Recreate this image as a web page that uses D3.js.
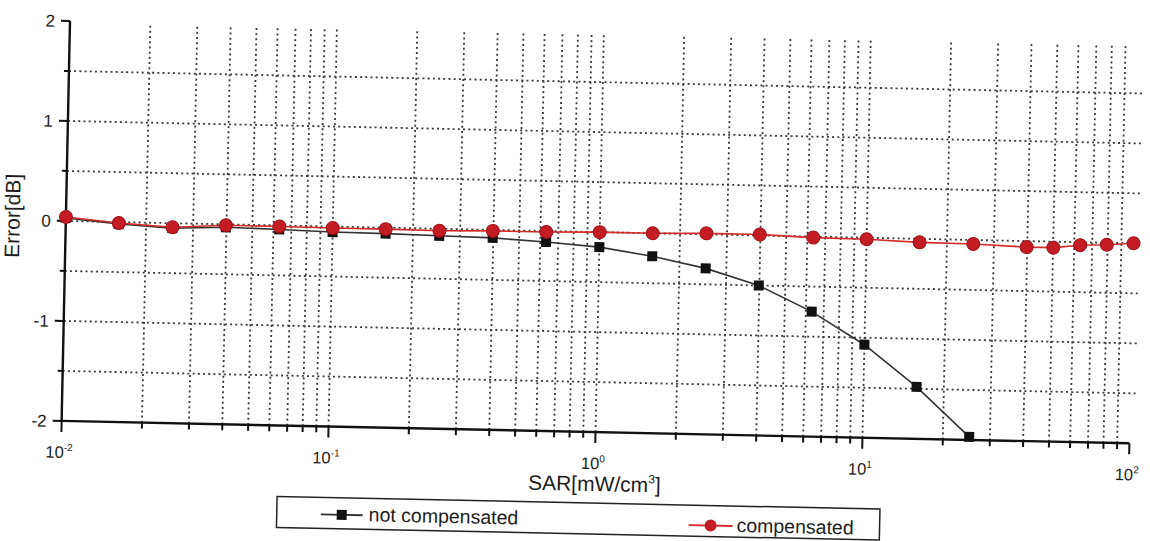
<!DOCTYPE html>
<html>
<head>
<meta charset="utf-8">
<title>Error vs SAR</title>
<style>
  body { margin: 0; background: #fff; }
  text { font-family: 'Liberation Sans', Arial, sans-serif; fill: #1e1e1e; }
</style>
</head>
<body>
<div id="chart"></div>
<script src="https://cdnjs.cloudflare.com/ajax/libs/d3/7.8.5/d3.min.js"></script>
<script>

// SAR values [mW/cm^3]
var sar = [0.01, 0.0158, 0.0251, 0.0398, 0.0631, 0.1, 0.158, 0.251, 0.398, 0.631,
           1, 1.58, 2.51, 3.98, 6.31, 10, 15.8, 25.1, 39.8, 50.1, 63.1, 79.4, 100];
// error [dB]
var notCompensated = [0.03, -0.02, -0.05, -0.03, -0.04, -0.055, -0.06, -0.07, -0.08, -0.11,
                      -0.15, -0.23, -0.34, -0.50, -0.75, -1.07, -1.48, -1.97];
var compensated = [0.04, -0.01, -0.04, -0.01, -0.01, -0.015, -0.015, -0.02, -0.01, -0.01,
                   0.0, 0.0, 0.01, 0.01, -0.01, -0.015, -0.035, -0.04, -0.06, -0.06, -0.03, -0.02, 0.0];
var yTicks = [-2, -1, 0, 1, 2];
var yMinor = [-1.5, -0.5, 0.5, 1.5];
var yGrid = [-1.5, -1, -0.5, 0, 0.5, 1, 1.5];
var decades = [0.01, 0.1, 1, 10, 100];
var decadeExp = ['-2', '-1', '0', '1', '2'];
var legendLabels = ['not compensated', 'compensated'];

var width = 1150, height = 541;
var padL = 70, padT = 21, plotW = 1068, plotH = 400;

var svg = d3.select('#chart').append('svg')
  .attr('width', width)
  .attr('height', height);

// the scanned page sits a little crooked
var g = svg.append('g').attr('transform', 'rotate(1.2,' + padL + ',' + padT + ')');

var x = d3.scaleLog().domain([0.01, 100]).range([padL, padL + plotW]);
var y = d3.scaleLinear().domain([-2, 2]).range([padT + plotH, padT]);

var dots = '2,3.2';

// grid
g.append('g').selectAll('line')
  .data(x.ticks().filter(function(d) { return d > 0.011 && d < 99; }))
  .enter().append('line')
    .attr('x1', function(d) { return x(d); })
    .attr('x2', function(d) { return x(d); })
    .attr('y1', padT + 3)
    .attr('y2', padT + plotH)
    .attr('stroke', '#3a3a3a')
    .attr('stroke-width', 1.8)
    .attr('stroke-dasharray', dots);

g.append('g').selectAll('line')
  .data(yGrid)
  .enter().append('line')
    .attr('x1', padL)
    .attr('x2', padL + plotW + 8)
    .attr('y1', function(d) { return y(d); })
    .attr('y2', function(d) { return y(d); })
    .attr('stroke', '#3a3a3a')
    .attr('stroke-width', 1.8)
    .attr('stroke-dasharray', dots);

// x axis
var xAxis = g.append('g').attr('transform', 'translate(0,' + (padT + plotH) + ')');
xAxis.append('line')
  .attr('x1', padL).attr('x2', padL + plotW)
  .attr('stroke', '#111').attr('stroke-width', 2.4);
xAxis.selectAll('line.tick')
  .data(x.ticks())
  .enter().append('line')
    .attr('class', 'tick')
    .attr('x1', function(d) { return x(d); })
    .attr('x2', function(d) { return x(d); })
    .attr('y1', 0)
    .attr('y2', function(d) { return decades.indexOf(d) >= 0 ? 11 : 6; })
    .attr('stroke', '#111')
    .attr('stroke-width', 2);
var xl = xAxis.selectAll('text')
  .data(decades)
  .enter().append('text')
    .attr('x', function(d) { return x(d) - 2; })
    .attr('y', 37)
    .attr('text-anchor', 'middle')
    .attr('font-size', 16.5);
xl.append('tspan').text('10');
xl.append('tspan')
  .attr('dy', -7)
  .attr('font-size', 10)
  .text(function(d, i) { return decadeExp[i]; });

g.append('text')
  .attr('x', x(1))
  .attr('y', padT + plotH + 59)
  .attr('text-anchor', 'middle')
  .attr('font-size', 21)
  .html('SAR[mW/cm<tspan dy="-9" font-size="12">3</tspan><tspan dy="9">]</tspan>');

// y axis
var yAxis = g.append('g');
yAxis.append('line')
  .attr('x1', padL).attr('x2', padL)
  .attr('y1', padT).attr('y2', padT + plotH)
  .attr('stroke', '#111').attr('stroke-width', 2.4);
yAxis.selectAll('line.tick')
  .data(yTicks.concat(yMinor))
  .enter().append('line')
    .attr('class', 'tick')
    .attr('x1', function(d) { return yTicks.indexOf(d) >= 0 ? padL - 9 : padL - 5; })
    .attr('x2', padL)
    .attr('y1', function(d) { return y(d); })
    .attr('y2', function(d) { return y(d); })
    .attr('stroke', '#111')
    .attr('stroke-width', 2);
yAxis.selectAll('text')
  .data(yTicks)
  .enter().append('text')
    .attr('x', padL - 15)
    .attr('y', function(d) { return y(d) + 6; })
    .attr('text-anchor', 'end')
    .attr('font-size', 17)
    .text(function(d) { return d; });

g.append('text')
  .attr('transform', 'translate(24,' + (y(0) - 4) + ') rotate(-90)')
  .attr('text-anchor', 'middle')
  .attr('font-size', 21)
  .text('Error[dB]');

// series
var line = d3.line()
  .x(function(d) { return x(d[0]); })
  .y(function(d) { return y(d[1]); });

var ncData = notCompensated.map(function(v, i) { return [sar[i], v]; });
var cData = compensated.map(function(v, i) { return [sar[i], v]; });

g.append('path')
  .datum(ncData)
  .attr('d', line)
  .attr('fill', 'none')
  .attr('stroke', '#333')
  .attr('stroke-width', 1.6);
g.append('g').selectAll('rect')
  .data(ncData)
  .enter().append('rect')
    .attr('x', function(d) { return x(d[0]) - 5; })
    .attr('y', function(d) { return y(d[1]) - 5; })
    .attr('width', 10)
    .attr('height', 10)
    .attr('fill', '#111');

g.append('path')
  .datum(cData)
  .attr('d', line)
  .attr('fill', 'none')
  .attr('stroke', '#d42a2a')
  .attr('stroke-width', 1.6);
g.append('g').selectAll('circle')
  .data(cData)
  .enter().append('circle')
    .attr('cx', function(d) { return x(d[0]); })
    .attr('cy', function(d) { return y(d[1]); })
    .attr('r', 6.5)
    .attr('fill', '#c41c24')
    .attr('stroke', '#a01018')
    .attr('stroke-width', 1);

// legend
var lg = g.append('g').attr('transform', 'translate(287,492)');
lg.append('rect')
  .attr('width', 603).attr('height', 31)
  .attr('fill', '#fff')
  .attr('stroke', '#222').attr('stroke-width', 1.5);
var item1 = lg.append('g').attr('transform', 'translate(44,17)');
item1.append('line').attr('x1', 0).attr('x2', 42).attr('stroke', '#333').attr('stroke-width', 1.8);
item1.append('rect').attr('x', 16).attr('y', -5).attr('width', 10).attr('height', 10).attr('fill', '#111');
item1.append('text').attr('x', 48).attr('y', 6).attr('font-size', 19.5).text(legendLabels[0]);
var item2 = lg.append('g').attr('transform', 'translate(412,20)');
item2.append('line').attr('x1', 0).attr('x2', 44).attr('stroke', '#d42a2a').attr('stroke-width', 1.8);
item2.append('circle').attr('cx', 22).attr('r', 6).attr('fill', '#c41c24');
item2.append('text').attr('x', 48).attr('y', 6).attr('font-size', 19.5).text(legendLabels[1]);

</script>
</body>
</html>
